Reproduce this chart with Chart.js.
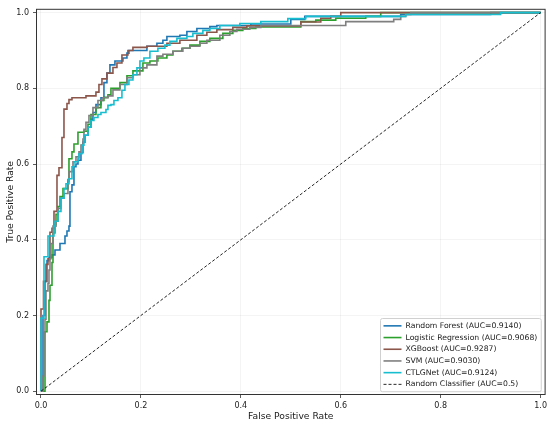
<!DOCTYPE html>
<html>
<head>
<meta charset="utf-8">
<script src="https://cdn.jsdelivr.net/npm/chart.js@4.4.1/dist/chart.umd.min.js"></script>
<style>
  html, body { margin: 0; padding: 0; background: #fff; }
  #wrap { width: 550px; height: 424px; }
</style>
</head>
<body>
<div id="wrap"><canvas id="roc" width="550" height="424"></canvas></div>
<script>
// models and their AUC
const modelNames = ['Random Forest', 'Logistic Regression', 'XGBoost', 'SVM', 'CTLGNet'];
const aucValues = [0.9140, 0.9068, 0.9287, 0.9030, 0.9124];
const modelColors = ['#1f77b4', '#2ca02c', '#8c564b', '#7f7f7f', '#17becf'];

// ROC points (tpr rises to value at given fpr)
const rfFpr = [0, 0.004, 0.008, 0.012, 0.016, 0.022, 0.028, 0.038, 0.048, 0.052, 0.056, 0.058, 0.062, 0.066, 0.070, 0.074, 0.080, 0.084, 0.088, 0.094, 0.100, 0.104, 0.110, 0.120, 0.126, 0.132, 0.138, 0.148, 0.164, 0.172, 0.176, 0.212, 0.232, 0.244, 0.252, 0.278, 0.292, 0.312, 0.338, 0.352, 0.420, 0.500, 0.528, 0.720, 0.900, 1.0];
const rfTpr = [0, 0.200, 0.290, 0.345, 0.353, 0.360, 0.373, 0.390, 0.410, 0.423, 0.436, 0.527, 0.545, 0.593, 0.600, 0.610, 0.630, 0.658, 0.676, 0.697, 0.718, 0.736, 0.757, 0.775, 0.815, 0.840, 0.862, 0.872, 0.880, 0.893, 0.900, 0.911, 0.919, 0.927, 0.937, 0.940, 0.950, 0.958, 0.963, 0.966, 0.970, 0.982, 0.990, 0.995, 1.0, 1.0];

const lrFpr = [0, 0.008, 0.012, 0.016, 0.018, 0.022, 0.024, 0.028, 0.030, 0.034, 0.038, 0.044, 0.054, 0.056, 0.062, 0.066, 0.074, 0.086, 0.094, 0.100, 0.110, 0.120, 0.126, 0.134, 0.140, 0.158, 0.172, 0.184, 0.204, 0.218, 0.234, 0.252, 0.264, 0.282, 0.298, 0.318, 0.338, 0.364, 0.384, 0.404, 0.430, 0.520, 0.550, 0.590, 0.650, 0.680, 1.0];
const lrTpr = [0, 0.157, 0.183, 0.240, 0.280, 0.340, 0.418, 0.440, 0.467, 0.488, 0.514, 0.535, 0.559, 0.614, 0.632, 0.653, 0.684, 0.687, 0.705, 0.731, 0.749, 0.768, 0.776, 0.783, 0.800, 0.815, 0.833, 0.846, 0.867, 0.872, 0.880, 0.888, 0.898, 0.906, 0.914, 0.924, 0.932, 0.945, 0.953, 0.958, 0.962, 0.976, 0.980, 0.985, 0.990, 1.0, 1.0];

const xgbFpr = [0, 0, 0.005, 0.010, 0.014, 0.018, 0.022, 0.026, 0.032, 0.036, 0.042, 0.046, 0.052, 0.056, 0.062, 0.090, 0.110, 0.116, 0.122, 0.132, 0.144, 0.152, 0.162, 0.174, 0.184, 0.212, 0.252, 0.278, 0.312, 0.332, 0.352, 0.384, 0.412, 0.520, 0.560, 0.580, 0.600, 1.0];
const xgbTpr = [0, 0.217, 0.290, 0.335, 0.350, 0.420, 0.430, 0.475, 0.570, 0.590, 0.670, 0.745, 0.760, 0.770, 0.775, 0.780, 0.790, 0.810, 0.825, 0.840, 0.855, 0.867, 0.888, 0.900, 0.908, 0.911, 0.919, 0.927, 0.940, 0.948, 0.955, 0.961, 0.965, 0.975, 0.985, 0.990, 1.0, 1.0];

const svmFpr = [0, 0.004, 0.006, 0.008, 0.010, 0.014, 0.016, 0.018, 0.020, 0.024, 0.030, 0.034, 0.040, 0.046, 0.054, 0.056, 0.064, 0.070, 0.076, 0.080, 0.084, 0.086, 0.090, 0.096, 0.104, 0.114, 0.124, 0.134, 0.144, 0.158, 0.172, 0.184, 0.198, 0.212, 0.232, 0.244, 0.264, 0.284, 0.298, 0.318, 0.332, 0.358, 0.378, 0.392, 0.418, 0.440, 0.610, 0.706, 0.720, 0.730, 0.740, 1.0];
const svmTpr = [0, 0.040, 0.155, 0.190, 0.265, 0.285, 0.320, 0.350, 0.390, 0.436, 0.449, 0.483, 0.510, 0.522, 0.554, 0.580, 0.606, 0.619, 0.632, 0.650, 0.666, 0.692, 0.710, 0.728, 0.749, 0.768, 0.775, 0.780, 0.796, 0.810, 0.828, 0.836, 0.854, 0.862, 0.885, 0.890, 0.898, 0.906, 0.911, 0.919, 0.927, 0.940, 0.950, 0.956, 0.961, 0.966, 0.976, 0.982, 0.990, 0.995, 1.0, 1.0];

const ctlFpr = [0, 0, 0.006, 0.014, 0.026, 0.028, 0.034, 0.040, 0.046, 0.050, 0.056, 0.062, 0.066, 0.074, 0.076, 0.082, 0.086, 0.094, 0.100, 0.106, 0.114, 0.120, 0.130, 0.134, 0.140, 0.146, 0.154, 0.162, 0.168, 0.176, 0.184, 0.192, 0.198, 0.206, 0.218, 0.234, 0.248, 0.258, 0.272, 0.292, 0.304, 0.324, 0.338, 0.358, 0.398, 0.440, 0.494, 0.530, 0.730, 0.920, 1.0];
const ctlTpr = [0, 0.193, 0.355, 0.410, 0.436, 0.449, 0.475, 0.510, 0.535, 0.548, 0.561, 0.593, 0.606, 0.614, 0.627, 0.650, 0.676, 0.697, 0.715, 0.723, 0.731, 0.736, 0.744, 0.755, 0.757, 0.768, 0.775, 0.795, 0.810, 0.822, 0.836, 0.854, 0.872, 0.880, 0.898, 0.906, 0.914, 0.924, 0.932, 0.937, 0.945, 0.953, 0.958, 0.966, 0.971, 0.976, 0.984, 0.990, 0.995, 1.0, 1.0];

const randomFpr = [0, 1];
const randomTpr = [0, 1];

const tickValues = [0, 0.2, 0.4, 0.6, 0.8, 1.0];
const tickLabels = ['0.0', '0.2', '0.4', '0.6', '0.8', '1.0'];

const curves = [[rfFpr, rfTpr], [lrFpr, lrTpr], [xgbFpr, xgbTpr], [svmFpr, svmTpr], [ctlFpr, ctlTpr]];

function toPoints(xs, ys) {
    return xs.map((x, i) => ({ x: x, y: ys[i] }));
}

const datasets = curves.map((c, i) => ({
    label: modelNames[i] + ' (AUC=' + aucValues[i].toFixed(4) + ')',
    data: toPoints(c[0], c[1]),
    borderColor: modelColors[i],
    borderWidth: 1.6,
    showLine: true,
    stepped: true,
    pointRadius: 0,
    order: curves.length - i + 1
}));

datasets.push({
    label: 'Random Classifier (AUC=0.5)',
    data: toPoints(randomFpr, randomTpr),
    borderColor: 'rgba(0,0,0,0.85)',
    borderWidth: 1,
    borderDash: [3, 2],
    showLine: true,
    pointRadius: 0,
    order: 0
});

// frame round the plot and a legend box inside it, like matplotlib
const framePlugin = {
    id: 'frameAndLegend',
    afterDraw(chart) {
        const { ctx, chartArea } = chart;
        ctx.save();
        ctx.strokeStyle = '#333';
        ctx.lineWidth = 1;
        ctx.strokeRect(chartArea.left + 0.5, chartArea.top + 0.5,
            chartArea.right - chartArea.left - 1, chartArea.bottom - chartArea.top - 1);

        ctx.font = '7.7px "DejaVu Sans"';
        const items = chart.data.datasets;
        const rowH = 11.7, pad = 3.5, sample = 18, gap = 4;
        const maxW = Math.max(...items.map(d => ctx.measureText(d.label).width));
        const w = pad + sample + gap + maxW + pad;
        const h = rowH * items.length + 3;
        const x0 = Math.round(chartArea.right - 5 - w);
        const y0 = Math.round(chartArea.bottom - 4 - h);

        ctx.fillStyle = 'rgba(255,255,255,0.85)';
        ctx.strokeStyle = '#d0d0d0';
        ctx.beginPath();
        ctx.roundRect(x0 + 0.5, y0 + 0.5, w, h, 2);
        ctx.fill();
        ctx.stroke();

        items.forEach((d, i) => {
            const cy = y0 + 2 + rowH * (i + 0.5);
            ctx.strokeStyle = d.borderColor;
            ctx.lineWidth = d.borderDash ? 1 : 1.6;
            ctx.setLineDash(d.borderDash || []);
            ctx.beginPath();
            ctx.moveTo(x0 + pad, cy);
            ctx.lineTo(x0 + pad + sample, cy);
            ctx.stroke();
            ctx.setLineDash([]);
            ctx.fillStyle = '#1a1a1a';
            ctx.textBaseline = 'middle';
            ctx.textAlign = 'left';
            ctx.fillText(d.label, x0 + pad + sample + gap, cy);
        });
        ctx.restore();
    }
};

function setTicks(scale) {
    scale.ticks = tickValues.map(v => ({ value: v }));
}

const gridStyle = {
    color: 'rgba(0,0,0,0.06)',
    tickColor: '#333',
    tickLength: 3,
    lineWidth: 0.8
};

const ctx = document.getElementById('roc').getContext('2d');
new Chart(ctx, {
    type: 'scatter',
    data: { datasets: datasets },
    plugins: [framePlugin],
    options: {
        responsive: false,
        animation: false,
        events: [],
        layout: { padding: { left: 0, right: 3, top: 5, bottom: 0 } },
        plugins: {
            legend: { display: false },
            tooltip: { enabled: false }
        },
        scales: {
            x: {
                type: 'linear',
                min: -0.01,
                max: 1.01,
                afterBuildTicks: setTicks,
                afterFit: function (scale) { scale.height = 29; },
                grid: gridStyle,
                border: { display: false },
                ticks: {
                    padding: 3,
                    color: '#222',
                    font: { family: 'DejaVu Sans', size: 8 },
                    maxRotation: 0,
                    callback: function (value) {
                        const i = tickValues.indexOf(value);
                        return i >= 0 ? tickLabels[i] : '';
                    }
                },
                title: {
                    display: true,
                    text: 'False Positive Rate',
                    color: '#1a1a1a',
                    font: { family: 'DejaVu Sans', size: 9.2 },
                    padding: { top: 0, bottom: 1.5 }
                }
            },
            y: {
                type: 'linear',
                min: -0.01,
                max: 1.01,
                afterBuildTicks: setTicks,
                afterFit: function (scale) { scale.width = 36; },
                grid: gridStyle,
                border: { display: false },
                ticks: {
                    padding: 4,
                    color: '#222',
                    font: { family: 'DejaVu Sans', size: 8 },
                    callback: function (value) {
                        const i = tickValues.indexOf(value);
                        return i >= 0 ? tickLabels[i] : '';
                    }
                },
                title: {
                    display: true,
                    text: 'True Positive Rate',
                    color: '#1a1a1a',
                    font: { family: 'DejaVu Sans', size: 9.2 },
                    padding: { top: 5, bottom: 0 }
                }
            }
        }
    }
});
</script>
</body>
</html>
